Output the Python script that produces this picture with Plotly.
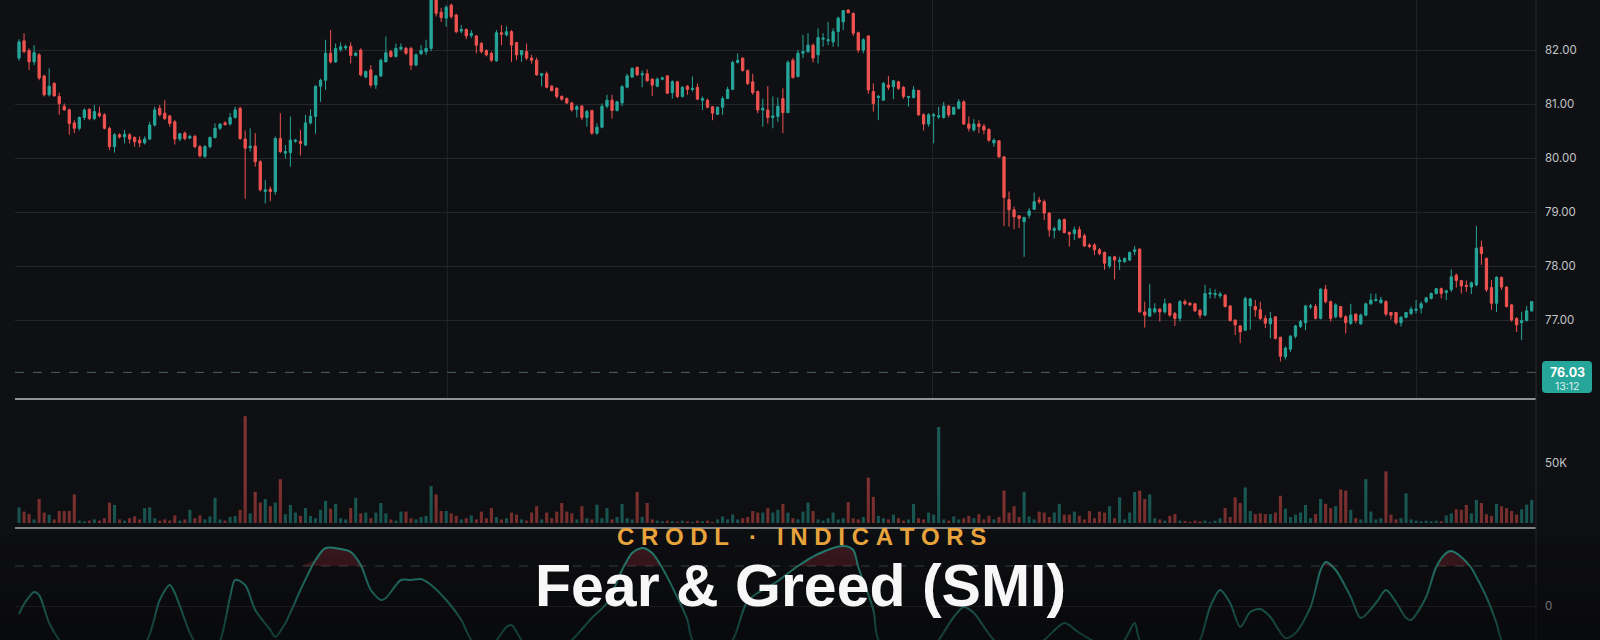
import numpy as np
import plotly.graph_objects as go

# ---------------- DATA ----------------
opens = [
    81.85, 82.17, 81.99, 81.78, 81.91, 81.52, 81.17, 81.38, 81.14, 80.96,
    80.89, 80.65, 80.55, 80.75, 80.90, 80.73, 80.83, 80.80, 80.55, 80.21,
    80.43, 80.39, 80.43, 80.38, 80.33, 80.28, 80.35, 80.61, 80.92, 80.83,
    80.78, 80.67, 80.35, 80.46, 80.37, 80.40, 80.21, 80.03, 80.21, 80.38,
    80.55, 80.65, 80.63, 80.75, 80.92, 80.35, 80.19, 80.22, 79.93, 79.38,
    79.42, 79.38, 80.36, 80.09, 80.10, 80.31, 80.31, 80.24, 80.65, 80.77,
    81.33, 81.44, 81.94, 81.78, 82.01, 82.04, 82.07, 81.90, 82.00, 81.50,
    81.63, 81.35, 81.52, 81.78, 81.97, 81.88, 82.02, 82.03, 82.03, 81.72,
    81.93, 81.97, 82.03, 82.95, 82.70,
    82.59, 82.83, 82.65, 82.35, 82.38, 82.27, 82.26, 82.12, 81.99, 81.94,
    81.80, 82.32, 82.28, 82.34, 82.14, 81.91, 81.97, 81.85, 81.81, 81.53,
    81.56, 81.33, 81.29, 81.14, 81.10, 81.02, 80.90, 80.96, 80.75, 80.88,
    80.46, 80.57, 80.96, 81.07, 80.88, 81.02, 81.31, 81.50, 81.68, 81.54,
    81.56, 81.46, 81.33, 81.46, 81.52, 81.21, 81.41, 81.14, 81.33, 81.27,
    81.31, 81.07, 81.07, 80.95, 80.81, 80.94, 81.10, 81.27, 81.77, 81.85,
    81.62, 81.41, 81.23, 80.89, 80.89, 80.75, 80.77, 81.10, 80.84, 81.81,
    81.51, 81.94, 81.97, 82.09, 81.91, 82.20, 82.17, 82.15, 82.34, 82.52,
    82.74, 82.68, 82.32, 82.00, 82.26, 81.23, 81.12, 81.07, 81.35, 81.32,
    81.41, 81.31, 81.12, 81.12, 81.25, 80.80, 80.63, 80.78, 80.76, 80.75,
    80.96, 80.81, 80.92,
    81.04, 80.63, 80.52, 80.63, 80.59, 80.53, 80.28, 80.32, 80.02, 79.23,
    79.04, 78.93, 78.82, 78.94, 79.05, 79.22, 79.19, 78.98, 78.66, 78.67,
    78.86, 78.62, 78.60, 78.67, 78.56, 78.39, 78.39, 78.30, 78.25, 78.00,
    78.17, 78.08, 78.08, 78.11, 78.27, 78.31, 77.15, 77.07, 77.15, 77.20,
    77.15, 77.30, 77.12, 77.03, 77.34, 77.31, 77.30, 77.18, 77.09, 77.48,
    77.47, 77.45, 77.46, 77.26, 77.00, 76.89, 76.81, 77.26, 77.25, 77.19,
    77.03, 76.93, 77.06, 76.68, 76.32, 76.46, 76.70, 76.88, 76.95, 77.24,
    77.25, 77.03, 77.57, 77.34, 77.06, 77.25, 77.06, 76.94, 77.11, 76.93,
    77.09, 77.30, 77.36, 77.32, 77.34, 77.14, 77.14, 76.95, 77.05, 77.12,
    77.18, 77.22, 77.34, 77.40, 77.49, 77.58, 77.51, 77.56, 77.83, 77.73,
    77.64, 77.61, 77.65, 78.35, 78.14, 77.60, 77.31, 77.79, 77.61, 77.28,
    77.03, 76.95, 76.99, 77.17,
]
highs = [
    82.20, 82.31, 82.03, 82.09, 81.94, 81.54, 81.66, 81.41, 81.21, 81.01,
    80.92, 80.70, 80.77, 80.92, 80.92, 80.98, 80.95, 80.83, 80.58, 80.46,
    80.46, 80.52, 80.46, 80.40, 80.40, 80.40, 80.67, 80.95, 80.98, 81.07,
    80.80, 80.70, 80.46, 80.49, 80.43, 80.43, 80.24, 80.24, 80.40, 80.64,
    80.64, 80.68, 80.83, 80.95, 80.95, 80.51, 80.55, 80.46, 79.96, 79.59,
    79.47, 80.40, 80.83, 80.24, 80.77, 80.35, 80.52, 80.80, 80.90, 81.34,
    81.47, 82.19, 82.37, 82.12, 82.14, 82.10, 82.14, 81.97, 82.03, 81.62,
    81.72, 81.54, 81.84, 82.25, 82.00, 82.12, 82.12, 82.06, 82.06, 81.94,
    82.09, 82.19, 83.05, 82.99, 82.78,
    82.83, 82.86, 82.67, 82.46, 82.40, 82.37, 82.28, 82.15, 82.01, 81.97,
    82.37, 82.46, 82.44, 82.37, 82.15, 82.00, 82.12, 81.91, 81.86, 81.57,
    81.60, 81.35, 81.31, 81.16, 81.12, 81.04, 80.98, 80.98, 80.89, 80.89,
    80.64, 81.01, 81.17, 81.17, 81.06, 81.35, 81.56, 81.68, 81.69, 81.62,
    81.64, 81.48, 81.49, 81.51, 81.54, 81.44, 81.43, 81.33, 81.35, 81.51,
    81.38, 81.14, 81.10, 80.96, 80.95, 81.14, 81.32, 81.80, 81.94, 81.86,
    81.64, 81.56, 81.25, 81.10, 81.33, 81.14, 81.12, 81.29, 81.81, 81.85,
    82.00, 82.28, 82.31, 82.12, 82.40, 82.31, 82.52, 82.40, 82.62, 82.74,
    82.75, 82.69, 82.34, 82.22, 82.28, 81.38, 81.17, 81.41, 81.52, 81.44,
    81.43, 81.33, 81.15, 81.33, 81.26, 80.83, 80.83, 80.83, 80.95, 81.04,
    80.98, 80.95, 81.09,
    81.07, 80.77, 80.72, 80.70, 80.63, 80.55, 80.36, 80.33, 80.04, 79.38,
    79.10, 78.94, 78.91, 79.07, 79.36, 79.28, 79.23, 78.99, 78.73, 78.88,
    78.88, 78.64, 78.73, 78.73, 78.60, 78.42, 78.42, 78.33, 78.27, 78.17,
    78.19, 78.17, 78.16, 78.27, 78.37, 78.33, 77.34, 77.67, 77.31, 77.22,
    77.40, 77.31, 77.15, 77.37, 77.38, 77.33, 77.32, 77.20, 77.65, 77.59,
    77.57, 77.52, 77.48, 77.28, 77.01, 76.91, 77.43, 77.41, 77.37, 77.34,
    77.09, 77.15, 77.07, 76.69, 76.51, 76.72, 76.91, 77.00, 77.28, 77.30,
    77.30, 77.59, 77.65, 77.36, 77.31, 77.26, 77.09, 77.30, 77.12, 77.12,
    77.32, 77.49, 77.49, 77.43, 77.37, 77.15, 77.15, 77.07, 77.15, 77.25,
    77.37, 77.34, 77.43, 77.51, 77.59, 77.60, 77.56, 77.94, 77.86, 77.74,
    77.73, 77.71, 78.74, 78.47, 78.16, 77.74, 77.81, 77.80, 77.62, 77.30,
    77.05, 77.15, 77.26, 77.34,
]
lows = [
    81.80, 81.94, 81.63, 81.72, 81.44, 81.14, 81.14, 81.14, 80.80, 80.88,
    80.43, 80.46, 80.51, 80.70, 80.70, 80.70, 80.75, 80.53, 80.15, 80.10,
    80.36, 80.27, 80.27, 80.21, 80.20, 80.25, 80.33, 80.58, 80.77, 80.70,
    80.58, 80.25, 80.31, 80.33, 80.35, 80.18, 80.01, 80.00, 80.18, 80.36,
    80.52, 80.60, 80.60, 80.73, 80.34, 79.25, 80.12, 79.84, 79.38, 79.16,
    79.20, 79.32, 80.09, 79.99, 79.84, 80.28, 80.05, 80.22, 80.62, 80.45,
    81.04, 81.26, 81.75, 81.76, 81.97, 82.00, 81.75, 81.88, 81.51, 81.48,
    81.31, 81.28, 81.50, 81.78, 81.86, 81.86, 81.99, 81.91, 81.63, 81.70,
    81.91, 81.91, 81.98, 82.62, 82.52,
    82.43, 82.58, 82.31, 82.31, 82.20, 82.22, 81.94, 81.94, 81.88, 81.78,
    81.78, 82.09, 82.25, 81.78, 81.81, 81.78, 81.81, 81.75, 81.52, 81.33,
    81.29, 81.23, 81.10, 81.06, 81.00, 80.86, 80.75, 80.70, 80.58, 80.43,
    80.43, 80.55, 80.92, 80.73, 80.86, 80.96, 81.29, 81.48, 81.52, 81.31,
    81.41, 81.15, 81.31, 81.44, 81.19, 81.10, 81.11, 81.12, 81.17, 81.23,
    81.07, 80.89, 80.92, 80.70, 80.80, 80.80, 81.09, 81.26, 81.75, 81.60,
    81.35, 81.17, 80.83, 80.58, 80.64, 80.55, 80.67, 80.46, 80.83, 81.47,
    81.49, 81.85, 81.94, 81.77, 81.75, 82.06, 82.09, 82.06, 82.06, 82.37,
    82.68, 82.26, 81.95, 81.94, 81.19, 80.86, 80.70, 81.06, 81.26, 81.09,
    81.26, 81.10, 80.95, 81.10, 80.78, 80.51, 80.58, 80.27, 80.72, 80.73,
    80.75, 80.80, 80.90,
    80.61, 80.49, 80.49, 80.46, 80.44, 80.30, 80.21, 80.01, 78.74, 78.73,
    78.68, 78.70, 78.17, 78.88, 79.04, 79.15, 78.85, 78.54, 78.51, 78.65,
    78.60, 78.36, 78.48, 78.51, 78.36, 78.33, 78.20, 78.20, 77.93, 77.96,
    77.75, 77.93, 78.06, 78.09, 78.20, 77.14, 76.86, 77.06, 77.12, 76.97,
    77.12, 77.06, 76.89, 76.97, 77.27, 77.26, 77.15, 77.03, 77.07, 77.40,
    77.40, 77.40, 77.23, 76.97, 76.72, 76.57, 76.80, 76.82, 77.06, 77.00,
    76.85, 76.66, 76.64, 76.23, 76.27, 76.41, 76.66, 76.85, 76.81, 77.20,
    77.01, 77.01, 77.31, 76.97, 77.03, 77.03, 76.75, 76.91, 76.94, 76.91,
    77.07, 77.28, 77.34, 77.30, 77.07, 77.01, 76.91, 76.88, 77.03, 77.09,
    77.12, 77.12, 77.31, 77.38, 77.47, 77.40, 77.37, 77.52, 77.60, 77.49,
    77.52, 77.48, 77.62, 78.02, 77.52, 77.19, 77.15, 77.56, 77.23, 76.97,
    76.78, 76.63, 76.97, 77.15,
]
closes = [
    82.15, 81.97, 81.78, 81.95, 81.48, 81.17, 81.33, 81.15, 81.01, 80.89,
    80.64, 80.55, 80.75, 80.89, 80.73, 80.86, 80.78, 80.55, 80.21, 80.43,
    80.39, 80.44, 80.35, 80.30, 80.28, 80.35, 80.61, 80.89, 80.80, 80.73,
    80.64, 80.35, 80.45, 80.36, 80.40, 80.21, 80.04, 80.21, 80.38, 80.55,
    80.63, 80.62, 80.75, 80.89, 80.36, 80.18, 80.22, 79.93, 79.41, 79.41,
    79.38, 80.36, 80.12, 80.12, 80.33, 80.33, 80.27, 80.65, 80.77, 81.33,
    81.44, 81.94, 81.78, 82.03, 82.06, 82.06, 81.90, 81.94, 81.54, 81.60,
    81.35, 81.52, 81.81, 81.95, 81.88, 82.03, 82.05, 81.94, 81.72, 81.91,
    81.99, 82.03, 82.98, 82.68, 82.60,
    82.79, 82.62, 82.34, 82.38, 82.26, 82.31, 82.09, 81.97, 81.91, 81.81,
    82.32, 82.29, 82.34, 82.09, 81.91, 81.99, 81.85, 81.81, 81.54, 81.56,
    81.31, 81.25, 81.14, 81.09, 81.02, 80.89, 80.95, 80.75, 80.86, 80.46,
    80.57, 80.96, 81.07, 80.88, 81.04, 81.32, 81.52, 81.66, 81.54, 81.56,
    81.43, 81.35, 81.46, 81.48, 81.20, 81.41, 81.14, 81.31, 81.27, 81.29,
    81.09, 81.10, 80.94, 80.83, 80.94, 81.10, 81.27, 81.77, 81.81, 81.62,
    81.38, 81.21, 80.89, 80.92, 80.75, 80.78, 80.96, 80.84, 81.77, 81.49,
    81.94, 81.97, 82.09, 81.85, 82.23, 82.22, 82.19, 82.34, 82.59, 82.73,
    82.69, 82.31, 82.00, 82.19, 81.26, 81.01, 81.14, 81.38, 81.31, 81.43,
    81.29, 81.14, 81.14, 81.26, 80.80, 80.63, 80.80, 80.80, 80.78, 80.96,
    80.80, 80.94, 81.04,
    80.63, 80.55, 80.63, 80.58, 80.52, 80.33, 80.33, 80.02, 79.27, 79.04,
    78.91, 78.88, 78.90, 79.02, 79.19, 79.19, 78.98, 78.67, 78.69, 78.85,
    78.62, 78.59, 78.67, 78.53, 78.37, 78.36, 78.30, 78.23, 78.05, 78.17,
    78.11, 78.11, 78.14, 78.25, 78.30, 77.15, 77.09, 77.21, 77.21, 77.15,
    77.30, 77.09, 77.03, 77.34, 77.30, 77.28, 77.17, 77.09, 77.49, 77.50,
    77.49, 77.48, 77.25, 76.99, 76.91, 76.78, 77.40, 77.39, 77.19, 77.03,
    76.94, 77.03, 76.66, 76.33, 76.48, 76.70, 76.89, 76.97, 77.26, 77.26,
    77.03, 77.57, 77.34, 77.03, 77.28, 77.06, 76.95, 77.09, 76.99, 77.09,
    77.30, 77.37, 77.38, 77.37, 77.11, 77.09, 76.95, 77.05, 77.14, 77.20,
    77.20, 77.30, 77.41, 77.49, 77.58, 77.49, 77.54, 77.80, 77.73, 77.63,
    77.62, 77.69, 78.33, 78.23, 77.56, 77.31, 77.79, 77.61, 77.25, 77.00,
    76.91, 76.99, 77.17, 77.34,
]
# volume in thousands
volume_k = [
    13, 9.5, 7.4, 3, 20, 8.7, 6.9, 3, 10, 10,
    10, 23.8, 2, 1.5, 2, 3, 2, 4, 17, 15,
    3, 2, 4, 5.5, 3, 12.4, 13, 4, 2, 3,
    2, 6.3, 2, 3, 11, 4, 6.3, 3, 5.5, 21,
    3, 2, 5, 6, 11, 89, 8, 26, 17, 20,
    14, 17, 36.5, 7.4, 15, 8.7, 6, 12.4, 6, 4,
    11, 18.5, 12, 16, 4, 3, 12.4, 21, 8, 8.7,
    4, 8.7, 16.7, 8, 3, 2, 9.5, 9.5, 4, 3,
    5, 6, 30.7, 23.8, 10, 10, 8, 6, 3, 4,
    6.3, 3, 9.5, 4, 12.4, 5, 3, 4, 8.7, 7,
    3, 2, 8.7, 14, 3, 8.7, 4, 9.5, 16.7, 9.5,
    8, 3, 14, 4, 3, 15.3, 4, 12.4, 3, 5,
    15.9, 4, 3, 26, 5, 16.7, 3, 2, 1.5, 2,
    1.5, 1, 2, 1.5, 1, 2, 1.5, 2, 1, 3,
    5.5, 3, 7, 3, 4, 5, 10, 8.7, 8.7, 12.4,
    8.7, 11, 15.9, 8.7, 4, 3, 9.5, 17, 10, 3,
    2, 4, 8.7, 3, 4, 17.4, 4, 3, 5, 37.8,
    21.8, 6, 4, 3, 7, 4, 2, 3, 15.9, 4,
    3, 8.7, 7, 80, 3, 2, 5.5, 3, 4, 6,
    4, 7.4, 3, 6, 3, 5, 27, 8.7, 14, 5,
    26, 5.5, 3, 9.5, 8.7, 5, 8.7, 16, 7, 7,
    9.5, 6, 3, 10, 4, 9.5, 8.7, 14, 4, 21.4,
    3, 8.7, 25.9, 27, 20, 23.8, 4, 3, 2, 6,
    7.4, 2, 1.5, 1, 2, 1.5, 2, 1, 2, 4,
    12.4, 5, 21.4, 16.7, 29.6, 10, 7.4, 8, 7.4, 7.4,
    8.7, 22.7, 12, 5, 7, 8.7, 15, 4, 7.4, 20,
    16, 12.4, 14, 28, 27, 11, 4, 3, 36.5, 9.5,
    3, 4, 43, 7, 3, 4, 24.6, 3, 2, 1.5,
    2, 1.5, 2, 1.5, 6.3, 8, 11.4, 11, 15, 8,
    19.3, 16.7, 7.4, 6, 15.9, 14, 12.4, 10, 7, 11.4,
    15.3, 19.3,
]
# SMI oscillator read at selected bar indices
smi_bar = [0, 1, 3, 4, 6, 8, 12, 18, 25, 28, 30, 31, 34, 35, 38, 40, 42, 43, 45, 47,
           50, 51, 53, 56, 59, 61, 64, 66, 68, 70, 72, 73, 76, 78, 80, 82, 85, 88, 90, 93,
           97, 98, 100, 103, 107, 110, 114, 117, 120, 122, 124, 126, 128, 130, 133, 134, 138, 142, 145, 151,
           155, 159, 164, 166, 167, 170, 171, 176, 180, 183, 186, 188, 190, 194, 199, 204, 208, 211, 215, 218,
           220, 222, 223, 228, 233, 235, 237, 239, 241, 243, 245, 247, 249, 252, 254, 257, 259, 260, 262, 265,
           267, 270, 272, 274, 276, 277, 280, 282, 284, 285, 287, 289, 290, 292, 294, 295, 298, 301]
smi_val = [-8, 2, 14, 11, -17, -34, -55, -50, -38, 6, 21, 13, -27, -36, -48, -35, 9, 26, 21, -4,
           -24, -31, -17, 16, 46, 58, 57, 54, 41, 16, 6, 8, 26, 26, 27, 21, 6, -14, -34, -45,
           -21, -19, -34, -50, -45, -34, -12, 3, 36, 53, 58, 53, 38, 19, -14, -34, -50, -34, 5, 25,
           40, 52, 60, 56, 39, -4, -34, -60, -52, -34, -11, -1, -7, -34, -50, -34, -17, -27, -38, -42,
           -34, -17, -34, -55, -45, -34, -1, 16, 3, -21, -6, -3, -11, -32, -27, -1, 36, 44, 36, 9,
           -12, 3, 16, 4, -12, -14, 9, 39, 53, 55, 49, 38, 29, 9, -17, -34, -50, -58]

price_ticks = [77, 78, 79, 80, 81, 82]
top_partial_tick = 83
last_price = 76.03
last_time = "13:12"
smi_level = 40
grid_bars = [85.2, 181.7, 278.0]

# ---------------- STYLE / LAYOUT ----------------
W, H = 1600, 640
ML, MR = 15, 64
PW = W - ML - MR
BG = "#0f1013"
UP, DN = "#26a69a", "#ef5350"


def fx(px):
    return (px - ML) / PW


def fy(py):
    return 1 - py / H


n = len(closes)
bars = list(range(n))
vol = np.array(volume_k) * 1000
vcol = ["rgba(38,166,154,0.5)" if c >= o else "rgba(239,83,80,0.5)" for o, c in zip(opens, closes)]

fig = go.Figure()
fig.add_trace(go.Candlestick(
    x=bars, open=opens, high=highs, low=lows, close=closes,
    increasing=dict(line=dict(color=UP, width=1), fillcolor=UP),
    decreasing=dict(line=dict(color=DN, width=1), fillcolor=DN),
    whiskerwidth=0, xaxis="x", yaxis="y", showlegend=False, hoverinfo="skip",
))
fig.add_trace(go.Bar(
    x=bars, y=vol, marker=dict(color=vcol, line=dict(width=0)), width=0.62,
    xaxis="x2", yaxis="y2", showlegend=False, hoverinfo="skip",
))
# SMI fill above the overbought level
smi_arr = np.array(smi_val, dtype=float)
fig.add_trace(go.Scatter(x=smi_bar, y=[smi_level] * len(smi_bar), mode="lines",
                         line=dict(width=0, color="rgba(0,0,0,0)"), xaxis="x3", yaxis="y3",
                         showlegend=False, hoverinfo="skip"))
fig.add_trace(go.Scatter(x=smi_bar, y=np.maximum(smi_arr, smi_level), mode="lines",
                         line=dict(width=0, color="rgba(0,0,0,0)"), fill="tonexty",
                         fillcolor="rgba(150,45,60,0.40)", xaxis="x3", yaxis="y3",
                         showlegend=False, hoverinfo="skip"))
fig.add_trace(go.Scatter(x=smi_bar, y=smi_val, mode="lines",
                         line=dict(color="rgba(48,170,150,0.85)", width=2, shape="spline", smoothing=0.8),
                         xaxis="x3", yaxis="y3", showlegend=False, hoverinfo="skip"))

xr = [-0.8, 301.86]
tickfont = dict(family="Inter, Roboto, sans-serif", size=11.5, color="#c4c6cb")
layout = dict(
    width=W, height=H, margin=dict(l=ML, r=MR, t=0, b=0),
    paper_bgcolor=BG, plot_bgcolor=BG, boxgap=0.35,
    xaxis=dict(domain=[0, 1], range=xr, anchor="y", showticklabels=False, ticks="",
               tickvals=grid_bars, showgrid=True, gridcolor="#1f2125", gridwidth=1,
               zeroline=False, showline=False, rangeslider=dict(visible=False), fixedrange=True),
    xaxis2=dict(domain=[0, 1], range=xr, anchor="y2", matches="x", showticklabels=False,
                showgrid=False, zeroline=False, showline=False),
    xaxis3=dict(domain=[0, 1], range=xr, anchor="y3", matches="x", showticklabels=False,
                showgrid=False, zeroline=False, showline=False),
    yaxis=dict(domain=[fy(399), 1], range=[82 - 349 / 54, 82 + 50 / 54], side="right", anchor="x",
               tickvals=price_ticks, ticktext=[f"{v:.2f}" for v in price_ticks], tickfont=tickfont,
               ticks="", ticklabelstandoff=8, showgrid=True, gridcolor="#24262a", gridwidth=1,
               zeroline=False, showline=False),
    yaxis2=dict(domain=[fy(528), fy(400)], range=[-4167, 102500], side="right", anchor="x2",
                tickvals=[50000], ticktext=["50K"], tickfont=tickfont, ticks="", ticklabelstandoff=8,
                showgrid=False, zeroline=False, showline=False),
    yaxis3=dict(domain=[0, fy(529)], range=[-34, 77], side="right", anchor="x3",
                tickvals=[0], ticktext=["0"], tickfont=tickfont, ticks="", ticklabelstandoff=8,
                showgrid=True, gridcolor="#2a2c30", zeroline=False, showline=False),
)
fig.update_layout(**layout)

shapes = []
# last price dashed line
shapes.append(dict(type="line", xref="paper", x0=0, x1=1, yref="y", y0=last_price, y1=last_price,
                   line=dict(color="rgba(110,130,128,0.7)", width=1, dash="dash")))
# SMI overbought dashed line
shapes.append(dict(type="line", xref="paper", x0=0, x1=1, yref="y3", y0=smi_level, y1=smi_level,
                   line=dict(color="rgba(150,150,150,0.45)", width=1, dash="dash")))
# pane separators
for py in (399, 528):
    shapes.append(dict(type="line", xref="paper", yref="paper", x0=0, x1=1, y0=fy(py), y1=fy(py),
                       line=dict(color="#bdbfc3", width=1.5)))
# right border
shapes.append(dict(type="line", xref="paper", yref="paper", x0=1, x1=1, y0=0, y1=1,
                   line=dict(color="#2a2c30", width=1)))
# price label rounded box
x0, x1, y0, y1, r = 1542, 1592, 361, 393, 4
pts = [("M", x0 + r, y0), ("L", x1 - r, y0), ("Q", x1, y0, x1, y0 + r), ("L", x1, y1 - r),
       ("Q", x1, y1, x1 - r, y1), ("L", x0 + r, y1), ("Q", x0, y1, x0, y1 - r), ("L", x0, y0 + r),
       ("Q", x0, y0, x0 + r, y0)]
path = ""
for p in pts:
    cmd = p[0]
    coords = p[1:]
    seg = []
    for i in range(0, len(coords), 2):
        seg.append(f"{fx(coords[i]):.5f},{fy(coords[i + 1]):.5f}")
    path += cmd + " ".join(seg) + " "
path += "Z"
shapes.append(dict(type="path", xref="paper", yref="paper", path=path,
                   fillcolor="#26a69a", line=dict(width=0)))
# bottom dark gradient
nb = 16
top, bot = 488, 640
for i in range(nb):
    a = 0.62 * ((i + 1) / nb) ** 1.4
    ya = top + (bot - top) * i / nb
    yb = top + (bot - top) * (i + 1) / nb
    shapes.append(dict(type="rect", xref="paper", yref="paper", x0=fx(0), x1=fx(W),
                       y0=fy(yb), y1=fy(ya), fillcolor=f"rgba(6,6,8,{a:.3f})",
                       line=dict(width=0), layer="above"))
fig.update_layout(shapes=shapes)

sp = "\u00a0"
brand = sp.join(list("CRODL")) + sp + sp + sp + "·" + sp + sp + sp + sp.join(list("INDICATORS"))
annotations = [
    dict(text=f"{top_partial_tick:.2f}", xref="paper", yref="paper", x=fx(1545), y=fy(-5),
         showarrow=False, font=tickfont, xanchor="left", yanchor="middle"),
    dict(text=f"<b>{last_price:.2f}</b>", xref="paper", yref="paper", x=fx(1567), y=fy(372),
         showarrow=False, font=dict(family="Inter, sans-serif", size=12.5, color="#ffffff"),
         xanchor="center", yanchor="middle"),
    dict(text=last_time, xref="paper", yref="paper", x=fx(1567), y=fy(386),
         showarrow=False, font=dict(family="Inter, sans-serif", size=10.5, color="rgba(255,255,255,0.85)"),
         xanchor="center", yanchor="middle"),
    dict(text=f"<b>{brand}</b>", xref="paper", yref="paper", x=fx(801), y=fy(536),
         showarrow=False, font=dict(family="Liberation Sans, Arial, sans-serif", size=24, color="#e8a33c"),
         xanchor="center", yanchor="middle"),
    dict(text="<b>Fear & Greed (SMI)</b>", xref="paper", yref="paper", x=fx(800), y=fy(586),
         showarrow=False, font=dict(family="Liberation Sans, Arial, sans-serif", size=59, color="#f7f7f7"),
         xanchor="center", yanchor="middle"),
]
fig.update_layout(annotations=annotations)

fig.write_html("out.html", config=dict(displayModeBar=False))
